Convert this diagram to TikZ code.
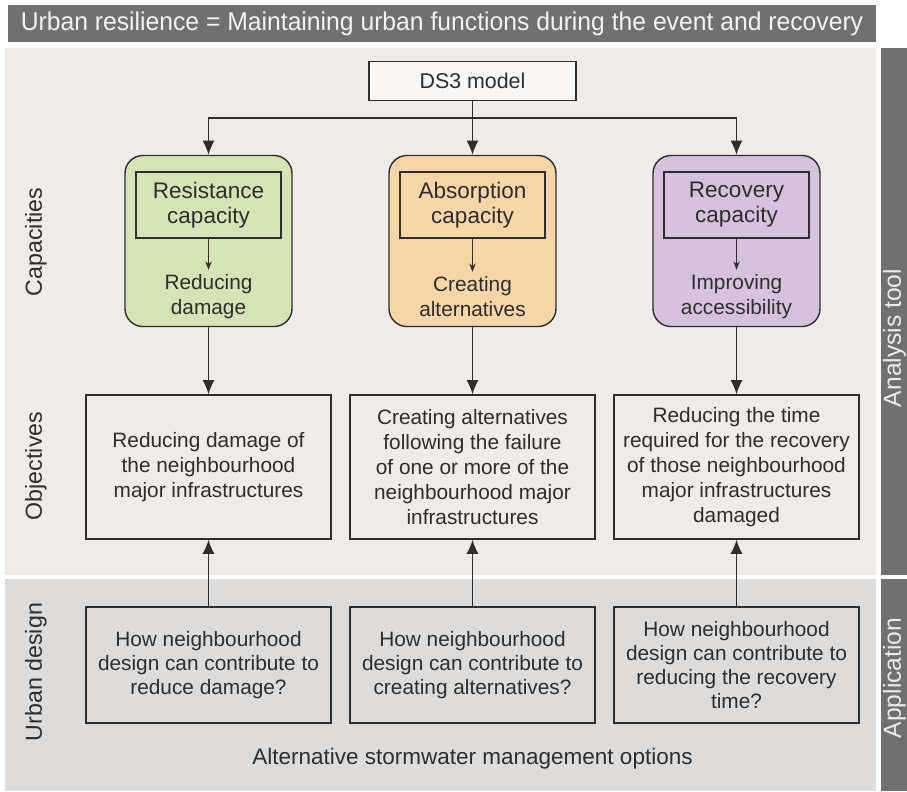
\documentclass[tikz,border=0pt]{standalone}
\usepackage{fontspec}
\setmainfont{Liberation Sans}
\newfontfamily\titlefont{Liberation Sans}[FakeStretch=0.96]
\usepackage{tikz}
\usetikzlibrary{arrows.meta, positioning, calc}
\definecolor{bannergray}{HTML}{707070}
\definecolor{panelup}{HTML}{EEEBE8}
\definecolor{paneldown}{HTML}{DEDCDA}
\definecolor{capgreen}{HTML}{D5E3B5}
\definecolor{caporange}{HTML}{F6D5A6}
\definecolor{cappurple}{HTML}{D6C2DC}
\definecolor{inkgray}{HTML}{2E2E2E}
\newcommand{\bodyfont}{\fontsize{14.8}{17.8}\selectfont}

\begin{document}
\begin{tikzpicture}[
  x=0.025cm, y=-0.025cm,
  band/.style={fill=bannergray, draw=none, text=white!95!black, inner sep=0pt},
  sidelbl/.style={rotate=90, font=\fontsize{16.5}{18}\selectfont, text=inkgray},
  barlbl/.style={rotate=90, text=white!92!black, font=\fontsize{17.5}{20}\selectfont},
  ds/.style={rectangle, draw=inkgray, line width=1pt, fill=white!60!panelup, minimum width=5.175cm, minimum height=0.975cm, font=\fontsize{15.2}{17}\selectfont, text=inkgray},
  capbox/.style={rectangle, rounded corners=0.45cm, draw=inkgray, line width=1pt, minimum width=4.175cm, minimum height=4.275cm},
  capin/.style={rectangle, draw=inkgray, line width=0.8pt, minimum width=3.625cm, minimum height=1.65cm, align=center, font=\fontsize{16}{17.8}\selectfont, text=inkgray},
  capgoal/.style={align=center, font=\bodyfont, text=inkgray},
  objbox/.style={rectangle, draw=inkgray, line width=1pt, minimum width=6.125cm, minimum height=3.6cm, align=center, font=\bodyfont, text=inkgray},
  qbox/.style={rectangle, draw=inkgray, line width=1pt, minimum width=6.125cm, minimum height=2.9cm, align=center, font=\fontsize{14.8}{17.2}\selectfont, text=inkgray},
  arr/.style={->, draw=inkgray, line width=1pt, >={Latex[length=10pt, width=8.5pt]}},
  thinarr/.style={->, draw=inkgray, line width=0.7pt, >={Stealth[length=6pt, width=4.5pt]}}
]
  \useasboundingbox (0,0) rectangle (907,791);

  % Background panels
  \fill[white] (0,0) rectangle (907,791);
  \node[band, minimum width=21.7cm, minimum height=0.925cm, font=\titlefont\fontsize{18.3}{20}\selectfont] (title) at (442,23.5)
    {Urban resilience = Maintaining urban functions during the event and recovery};
  \fill[panelup] (5,48) rectangle (876,575);
  \fill[paneldown] (5,579) rectangle (876,791);
  \fill[bannergray] (881,48) rectangle (907,575);
  \fill[bannergray] (881,579) rectangle (907,791);
  \node[barlbl] (ana) at (894.5,338) {Analysis tool};
  \node[barlbl] (app) at (894.5,678) {Application};

  % Side labels
  \node[sidelbl] (lcap) at (36,242) {Capacities};
  \node[sidelbl] (lobj) at (36,466) {Objectives};
  \node[sidelbl] (lurb) at (36,672) {Urban design};

  % DS3 model
  \node[ds] (ds3) at (472.5,81) {DS3 model};
  \coordinate (split) at (472.5,118);
  \draw[draw=inkgray, line width=1pt] (ds3.south) -- (split);

  % Columns: capacities, objectives, design questions
  \foreach \i/\cx/\col/\ttl/\goal in {
      1/208.5/capgreen/{Resistance\\capacity}/{Reducing\\damage},
      2/472.5/caporange/{Absorption\\capacity}/{Creating\\alternatives},
      3/736.5/cappurple/{Recovery\\capacity}/{Improving\\accessibility}} {
    \node[capbox, fill=\col] (c\i) at (\cx,241) {};
    \node[capin] (ci\i) at (\cx,205) {\ttl};
    \node[capgoal] (cg\i) at (\cx,297) {\goal};
    \draw[thinarr] (ci\i.south) -- (cg\i.north);
  }

  \node[objbox] (o1) at (208.5,467) {Reducing damage of\\the neighbourhood\\major infrastructures};
  \node[objbox] (o2) at (472.5,467) {Creating alternatives\\following the failure\\of one or more of the\\neighbourhood major\\infrastructures};
  \node[objbox] (o3) at (736.5,467) {Reducing the time\\required for the recovery\\of those neighbourhood\\major infrastructures\\damaged};

  \node[qbox] (q1) at (208.5,665) {How neighbourhood\\design can contribute to\\reduce damage?};
  \node[qbox] (q2) at (472.5,665) {How neighbourhood\\design can contribute to\\creating alternatives?};
  \node[qbox] (q3) at (736.5,665) {How neighbourhood\\design can contribute to\\reducing the recovery\\time?};

  \node[font=\fontsize{16}{18}\selectfont, text=inkgray] (alt) at (472.5,759) {Alternative stormwater management options};

  % Connectors
  \draw[arr] (split) -| (c1.north);
  \draw[arr] (split) -- (c2.north);
  \draw[arr] (split) -| (c3.north);
  \foreach \i in {1,2,3} {
    \draw[arr] (c\i.south) -- (o\i.north);
    \draw[arr] (q\i.north) -- (o\i.south);
  }
\end{tikzpicture}
\end{document}
